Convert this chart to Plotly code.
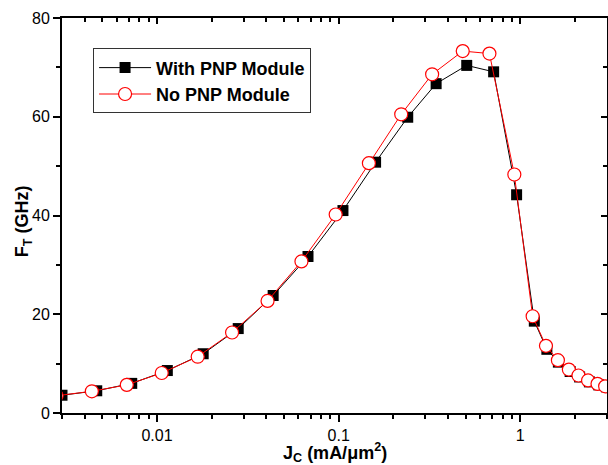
import plotly.graph_objects as go
import numpy as np

# Data
jc_with = [0.0030, 0.00466, 0.00726, 0.0114, 0.01796, 0.028, 0.0436, 0.0678, 0.1056, 0.1597,
           0.240, 0.344, 0.507, 0.713, 0.954, 1.194, 1.40, 1.62, 1.88, 2.12, 2.40, 2.70, 2.98]
ft_with = [3.6, 4.5, 6.0, 8.6, 12.0, 17.1, 23.8, 31.7, 41.0, 50.8,
           59.9, 66.7, 70.4, 69.1, 44.2, 18.6, 12.9, 10.3, 8.4, 7.3, 6.3, 5.7, 5.3]

jc_no = [0.0028, 0.00438, 0.00682, 0.01062, 0.01675, 0.0259, 0.0406, 0.0624, 0.0963, 0.1467,
         0.221, 0.327, 0.482, 0.676, 0.927, 1.169, 1.384, 1.61, 1.85, 2.09, 2.36, 2.66, 2.93]
ft_no = [3.5, 4.4, 5.7, 8.1, 11.4, 16.3, 22.7, 30.7, 40.2, 50.6,
         60.5, 68.6, 73.3, 72.8, 48.3, 19.6, 13.6, 10.7, 8.8, 7.6, 6.6, 5.9, 5.4]

x_major = [0.01, 0.1, 1]
x_major_text = ["0.01", "0.1", "1"]
x_minor = [m * 10.0 ** e for e in (-3, -2, -1, 0) for m in range(2, 10)]
x_minor = [v for v in x_minor if 0.003 <= v <= 3.0 + 1e-9]

x_title = "<b>J<sub>C</sub> (mA/μm<sup>2</sup>)</b>"
y_title = "<b>F<sub>T</sub> (GHz)</b>"

xr = [np.log10(0.003), np.log10(3.0)]
yr = [0, 80]

FONT = "Liberation Sans, Arial, sans-serif"

fig = go.Figure()
fig.add_trace(go.Scatter(
    x=jc_with, y=ft_with, mode="lines+markers", name="<b>With PNP Module</b>",
    line=dict(color="black", width=1),
    marker=dict(symbol="square", size=11, color="black", line=dict(width=0)),
))
fig.add_trace(go.Scatter(
    x=jc_no, y=ft_no, mode="lines+markers", name="<b>No PNP Module</b>",
    line=dict(color="red", width=1),
    marker=dict(symbol="circle", size=13, color="white", line=dict(color="red", width=1.2)),
))
# invisible trace to hold mirror axes
fig.add_trace(go.Scatter(x=[0.01], y=[0], xaxis="x2", yaxis="y2", mode="markers",
                         marker=dict(opacity=0), showlegend=False, hoverinfo="skip"))

fig.update_layout(
    width=608, height=465,
    margin=dict(l=62, r=1, t=18, b=52),
    paper_bgcolor="white", plot_bgcolor="white",
    font=dict(family=FONT, color="black"),
    showlegend=True,
    legend=dict(
        x=0.057, y=0.923, xanchor="left", yanchor="top",
        bordercolor="#333", borderwidth=1, bgcolor="white",
        font=dict(size=18, family=FONT),
        itemwidth=52, tracegroupgap=0,
    ),
    xaxis=dict(
        type="log", range=xr, showgrid=False, zeroline=False,
        showline=True, linecolor="black", linewidth=2,
        ticks="outside", ticklen=7, tickwidth=2, tickcolor="black",
        tickmode="array", tickvals=x_major, ticktext=x_major_text,
        tickfont=dict(size=16, family=FONT),
        minor=dict(ticks="outside", ticklen=4, tickwidth=1.5, tickcolor="black",
                   tickmode="array", tickvals=x_minor),
    ),
    yaxis=dict(
        range=yr, showgrid=False, zeroline=False,
        showline=True, linecolor="black", linewidth=2,
        ticks="outside", ticklen=7, tickwidth=2, tickcolor="black",
        tickmode="linear", tick0=0, dtick=20,
        tickfont=dict(size=16, family=FONT),
        minor=dict(ticks="outside", ticklen=4, tickwidth=1.5, tickcolor="black", dtick=10, tick0=0),
    ),
    xaxis2=dict(
        type="log", range=xr, overlaying="x", side="top", showgrid=False, zeroline=False,
        showline=True, linecolor="black", linewidth=2,
        ticks="inside", ticklen=6, tickwidth=2, tickcolor="black",
        tickmode="array", tickvals=x_major, showticklabels=False,
        minor=dict(ticks="inside", ticklen=4, tickwidth=1.5, tickcolor="black",
                   tickmode="array", tickvals=x_minor),
    ),
    yaxis2=dict(
        range=yr, overlaying="y", side="right", showgrid=False, zeroline=False,
        showline=True, linecolor="black", linewidth=2,
        ticks="inside", ticklen=6, tickwidth=2, tickcolor="black",
        tickmode="linear", tick0=0, dtick=20, showticklabels=False,
        minor=dict(ticks="inside", ticklen=4, tickwidth=1.5, tickcolor="black", dtick=10, tick0=0),
    ),
    annotations=[
        dict(text=x_title, xref="paper", yref="paper", x=0.501, y=-0.10,
             xanchor="center", yanchor="middle", showarrow=False,
             font=dict(size=18, family=FONT)),
        dict(text=y_title, xref="paper", yref="paper", x=-0.07, y=0.485,
             xanchor="center", yanchor="middle", showarrow=False, textangle=-90,
             font=dict(size=18, family=FONT)),
    ],
)

fig.write_html("out.html")
